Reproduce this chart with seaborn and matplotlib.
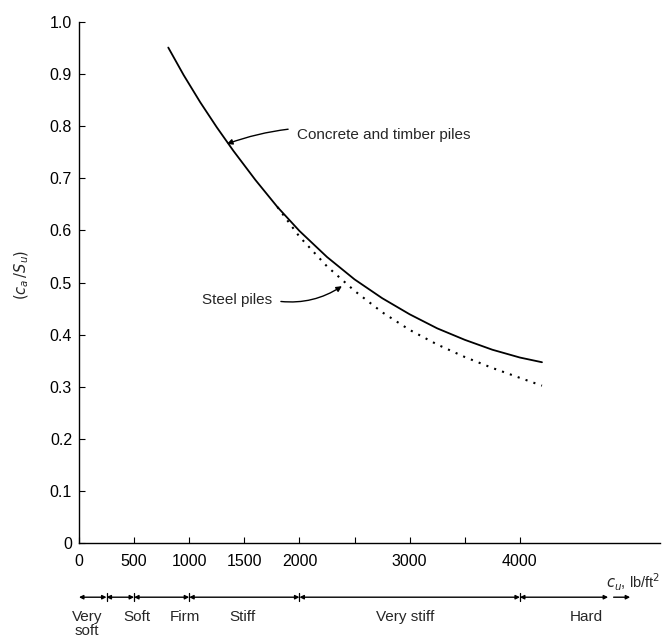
import matplotlib
matplotlib.use("Agg")
import matplotlib.pyplot as plt
import matplotlib.transforms as mtransforms
import seaborn as sns
import pandas as pd

# ---- data ----
concrete_x = [810, 950, 1100, 1250, 1400, 1600, 1800, 2000, 2250, 2500, 2750, 3000, 3250, 3500, 3750, 4000, 4200]
concrete_y = [0.951, 0.898, 0.846, 0.798, 0.753, 0.697, 0.645, 0.599, 0.549, 0.506, 0.470, 0.439, 0.412, 0.390, 0.371, 0.356, 0.347]

steel_x = [1800, 2000, 2250, 2500, 2750, 3000, 3250, 3500, 3750, 4000, 4200]
steel_y = [0.645, 0.588, 0.531, 0.484, 0.443, 0.409, 0.381, 0.357, 0.336, 0.317, 0.302]

x_ticks = [0, 500, 1000, 1500, 2000, 2500, 3000, 3500, 4000]
x_tick_labels = ["0", "500", "1000", "1500", "2000", "", "3000", "", "4000"]
y_ticks = [0, 0.1, 0.2, 0.3, 0.4, 0.5, 0.6, 0.7, 0.8, 0.9, 1.0]
y_tick_labels = ["0", "0.1", "0.2", "0.3", "0.4", "0.5", "0.6", "0.7", "0.8", "0.9", "1.0"]

soil_names = ["Very\nsoft", "Soft", "Firm", "Stiff", "Very stiff", "Hard"]
soil_bounds = [0, 250, 500, 1000, 2000, 4000, 4800]
soil_label_x = [75, 525, 960, 1480, 2960, 4600]

sns.set_style("ticks")
plt.rcParams["font.family"] = ["Liberation Sans", "DejaVu Sans"]

fig = plt.figure(figsize=(6.67, 6.44), dpi=100)
ax = fig.add_axes([0.1184, 0.1568, 0.871, 0.809])

df_c = pd.DataFrame({"x": concrete_x, "y": concrete_y})
df_s = pd.DataFrame({"x": steel_x, "y": steel_y})
sns.lineplot(data=df_c, x="x", y="y", ax=ax, color="black", lw=1.3,
             estimator=None, sort=False)
sns.lineplot(data=df_s, x="x", y="y", ax=ax, color="black", lw=1.5,
             estimator=None, sort=False, linestyle=(0, (1, 3)))

ax.set_xlim(0, 5270)
ax.set_ylim(0, 1.0)
ax.set_xticks(x_ticks)
ax.set_xticklabels(x_tick_labels, fontsize=11.5)
ax.set_yticks(y_ticks)
ax.set_yticklabels(y_tick_labels, fontsize=11.5)
ax.tick_params(axis="both", direction="in", length=4, width=0.8, colors="black")
ax.tick_params(axis="y", pad=5)
ax.tick_params(axis="x", pad=8)
ax.set_xlabel("")
ax.set_ylabel("")
sns.despine(ax=ax)
for s in ["left", "bottom"]:
    ax.spines[s].set_linewidth(1.0)
    ax.spines[s].set_color("black")

# axis titles
fig.text(22 / 667, 1 - 275 / 644, r"$(c_a\,/S_u)$", rotation=90,
         ha="center", va="center", fontsize=10.5)
ax.text(1.0, -0.075, r"$c_u$, lb/ft$^2$", transform=ax.transAxes,
        ha="right", va="center", fontsize=10.5)

# annotations
ax.annotate("Concrete and timber piles", xy=(1342, 0.766), xytext=(1977, 0.783),
            fontsize=11, va="center", ha="left",
            arrowprops=dict(arrowstyle="-|>", color="black", lw=1.0,
                            connectionstyle="arc3,rad=0.15",
                            shrinkA=4, shrinkB=0, mutation_scale=8))
ax.annotate("Steel piles", xy=(2385, 0.493), xytext=(1116, 0.466),
            fontsize=11, va="center", ha="left",
            arrowprops=dict(arrowstyle="-|>", color="black", lw=1.0,
                            connectionstyle="arc3,rad=0.2",
                            shrinkA=4, shrinkB=0, mutation_scale=8,
                            relpos=(1.0, 0.5)))

# soil consistency scale below the axis
trans = mtransforms.blended_transform_factory(ax.transData, ax.transAxes)
y_bar = -0.104
for i in range(len(soil_names)):
    a, b = soil_bounds[i], soil_bounds[i + 1]
    ax.annotate("", xy=(b, y_bar), xytext=(a, y_bar), xycoords=trans,
                textcoords=trans,
                arrowprops=dict(arrowstyle="<|-|>", color="black", lw=1.0,
                                shrinkA=0, shrinkB=0, mutation_scale=6),
                annotation_clip=False)
for b in soil_bounds[1:-1]:
    ax.plot([b, b], [y_bar - 0.008, y_bar + 0.008], color="black", lw=0.9,
            transform=trans, clip_on=False)
ax.annotate("", xy=(5000, y_bar), xytext=(4850, y_bar), xycoords=trans,
            textcoords=trans,
            arrowprops=dict(arrowstyle="-|>", color="black", lw=1.0,
                            shrinkA=0, shrinkB=0, mutation_scale=6),
            annotation_clip=False)
for name, lx in zip(soil_names, soil_label_x):
    ax.text(lx, y_bar - 0.025, name, transform=trans, ha="center", va="top",
            fontsize=11, linespacing=1.0)

fig.savefig("out.png", dpi=100, facecolor="white")
